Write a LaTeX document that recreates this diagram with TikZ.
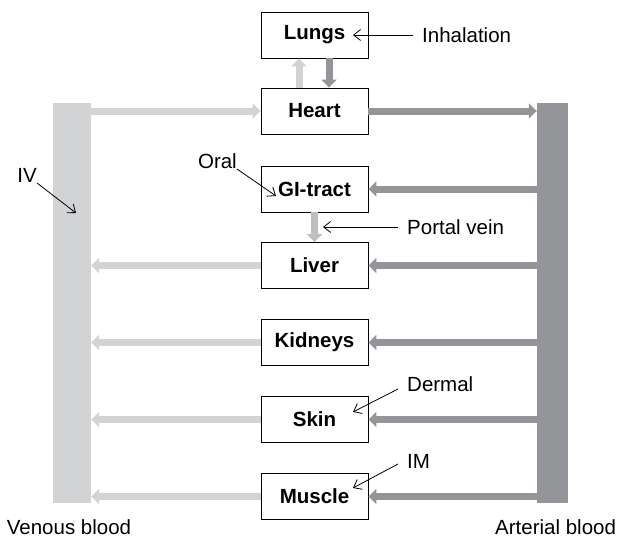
\documentclass[tikz,border=0pt]{standalone}
\usepackage{fontspec}
\setmainfont{Liberation Sans}
\usetikzlibrary{arrows.meta,positioning}
\definecolor{venousgray}{RGB}{209,211,212}
\definecolor{arterialgray}{RGB}{147,149,152}
\definecolor{portalgray}{RGB}{188,190,192}

\begin{document}
\begin{tikzpicture}[x=1pt, y=-1pt,
  font=\fontsize{20.5}{24}\selectfont,
  organ/.style={draw, line width=0.9pt, minimum width=107pt, minimum height=46pt,
    inner sep=0pt, font=\fontsize{20.5}{24}\selectfont\bfseries},
  bar/.style={minimum width=#1, minimum height=400pt, inner sep=0pt},
  lbl/.style={inner sep=0pt, text height=15pt, text depth=0pt},
  artflow/.style={line width=7pt, draw=arterialgray, -{Triangle[length=8pt,width=15pt]}},
  venflow/.style={line width=7pt, draw=venousgray, -{Triangle[length=8pt,width=15pt]}},
  route/.style={line width=0.8pt, -{Straight Barb[length=7pt,width=11pt]}}]
\useasboundingbox (0,0) rectangle (619,538);
% organs
\node[organ] (lungs) at (314.5,35) {Lungs};
\node[organ] (heart) at (314.5,111) {Heart};
\node[organ] (gi) at (314.5,189) {GI-tract};
\node[organ] (liver) at (314.5,265.5) {Liver};
\node[organ] (kidneys) at (314.5,342.5) {Kidneys};
\node[organ] (skin) at (314.5,419.5) {Skin};
\node[organ] (muscle) at (314.5,496.5) {Muscle};
% blood pools
\node[bar=38pt, fill=venousgray] (venous) at (72,303) {};
\node[bar=31pt, fill=arterialgray] (arterial) at (552.5,303) {};
\node[lbl, anchor=base] (venlbl) at (69,534) {Venous blood};
\node[lbl, anchor=base west] (artlbl) at (495,534) {Arterial blood};
% blood flows
\draw[venflow] (venous.east |- heart) -- (heart.west);
\draw[artflow] (heart.east) -- (heart.east -| arterial.west);
\foreach \o in {gi,liver,kidneys,skin,muscle}
  \draw[artflow] (\o.east -| arterial.west) -- (\o.east);
\foreach \o in {liver,kidneys,skin,muscle}
  \draw[venflow] (\o.west) -- (\o.west -| venous.east);
\draw[venflow] ([xshift=-15.5pt]heart.north) -- ([xshift=-15.5pt]lungs.south);
\draw[artflow] ([xshift=14.5pt]lungs.south) -- ([xshift=14.5pt]heart.north);
\draw[venflow, draw=portalgray] (gi.south) -- (liver.north);
% routes of entry
\node[lbl, anchor=west, inner xsep=9pt] (inhal) at (413,35) {Inhalation};
\coordinate (inhaltip) at (353,35);
\draw[route] (inhal.west) -- (inhaltip);
\node[lbl, anchor=west, inner xsep=9pt] (portal) at (398,227) {Portal vein};
\coordinate (portaltip) at (323,227);
\draw[route] (portal.west) -- (portaltip);
\node[lbl, anchor=south east] (oral) at (237,169) {Oral};
\coordinate (oraltip) at (276,196);
\draw[route] (oral.south east) -- (oraltip);
\node[lbl, anchor=south east] (iv) at (37,183) {IV};
\coordinate (ivtip) at (76,213);
\draw[route] (iv.south east) -- (ivtip);
\node[lbl, anchor=south west, inner xsep=9pt] (dermal) at (398,392) {Dermal};
\coordinate (dermaltip) at (353,412);
\draw[route] ([yshift=3pt]dermal.south west) -- (dermaltip);
\node[lbl, anchor=south west, inner xsep=9pt] (im) at (398,469) {IM};
\coordinate (imtip) at (353,488);
\draw[route] ([yshift=5pt]im.south west) -- (imtip);
\end{tikzpicture}
\end{document}
